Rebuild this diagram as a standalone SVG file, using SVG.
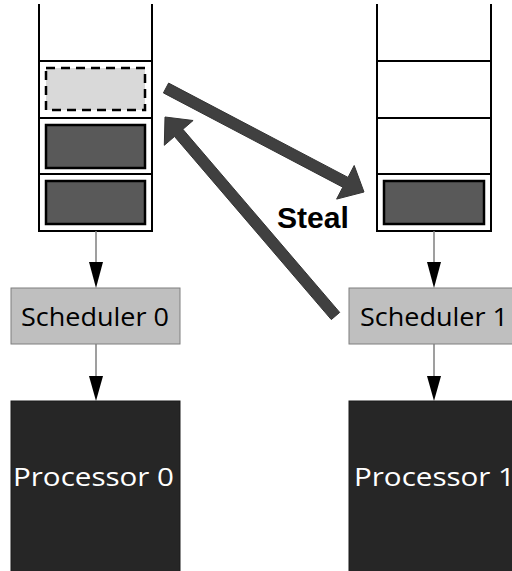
<svg xmlns="http://www.w3.org/2000/svg" width="512" height="571" viewBox="0 0 512 571">
<style>
.stack{fill:none;stroke:#000;stroke-width:2}
.task{fill:#595959;stroke:#000;stroke-width:2.5}
.stolen{fill:#d9d9d9;stroke:#000;stroke-width:2.5;stroke-dasharray:9,6}
.sched{fill:#bfbfbf;stroke:#7f7f7f;stroke-width:1}
.proc{fill:#262626;stroke:#1a1a1a;stroke-width:1}
.conn{stroke:#7f7f7f;stroke-width:1.5;fill:none}
.head{fill:#000}
.big{fill:#404040;stroke:#333;stroke-width:1}
.lbl{font-family:"Open Sans","Noto Sans","Liberation Sans",sans-serif;font-size:25px;text-anchor:start}
</style>
<g id="stack0">
<path class="stack" d="M39,4 V231 H152 V4 M39,61 H152 M39,118 H152 M39,174 H152"/>
<rect class="stolen" x="46" y="68" width="99" height="42"/>
<rect class="task" x="46" y="125" width="99" height="43"/>
<rect class="task" x="46" y="181" width="99" height="43"/>
</g>
<g id="stack1">
<path class="stack" d="M377,4 V231 H491 V4 M377,61 H491 M377,118 H491 M377,174 H491"/>
<rect class="task" x="384" y="181" width="100" height="43"/>
</g>
<g id="scheduler0">
<rect class="sched" x="11" y="288" width="169" height="56"/>
<text class="lbl" x="21" y="326" fill="#000" textLength="148" lengthAdjust="spacingAndGlyphs">Scheduler 0</text>
</g>
<g id="scheduler1">
<rect class="sched" x="349" y="288" width="169" height="56"/>
<text class="lbl" x="360" y="326" fill="#000" textLength="148" lengthAdjust="spacingAndGlyphs">Scheduler 1</text>
</g>
<g id="processor0">
<rect class="proc" x="11" y="401" width="169" height="175"/>
<text class="lbl" x="13" y="486" fill="#fff" font-size="26" textLength="161" lengthAdjust="spacingAndGlyphs">Processor 0</text>
</g>
<g id="processor1">
<rect class="proc" x="349" y="401" width="169" height="175"/>
<text class="lbl" x="354" y="486" fill="#fff" font-size="26" textLength="161" lengthAdjust="spacingAndGlyphs">Processor 1</text>
</g>
<g id="connectors">
<line class="conn" x1="96" y1="231" x2="96" y2="263"/>
<polygon class="head" points="89,262 103,262 96,288"/>
<line class="conn" x1="96" y1="344" x2="96" y2="377"/>
<polygon class="head" points="89,376 103,376 96,401"/>
<line class="conn" x1="434" y1="231" x2="434" y2="263"/>
<polygon class="head" points="427,262 441,262 434,288"/>
<line class="conn" x1="434" y1="344" x2="434" y2="377"/>
<polygon class="head" points="427,376 441,376 434,401"/>
<polygon class="big" points="168.6,83.1 348,177.4 354.2,165.5 364,192 336.6,199.1 342.8,187.2 163.4,92.9"/>
<polygon class="big" points="339.7,312.4 182.9,129.3 193.1,120.5 165,117 164.3,145.3 174.5,136.5 331.3,319.6"/>
</g>
<text x="277" y="228" font-family="'Liberation Sans',Arial,sans-serif" font-weight="bold" font-size="29" fill="#000" textLength="72" lengthAdjust="spacingAndGlyphs">Steal</text>
</svg>
